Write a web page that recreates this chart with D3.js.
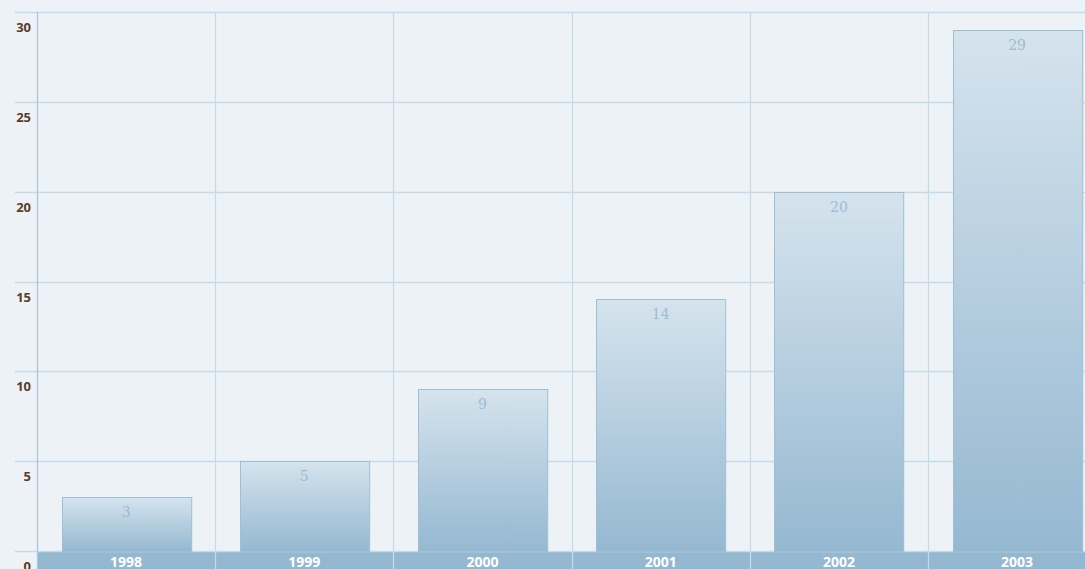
<!DOCTYPE html>
<html>
<head>
<meta charset="utf-8">
<script src="https://cdn.jsdelivr.net/npm/d3@7"></script>
<style>
html,body{margin:0;padding:0;background:#edf2f6;overflow:hidden;}
svg{display:block;}
</style>
</head>
<body>
<svg id="chart" width="1085" height="569"></svg>
<script>
const categories = ["1998","1999","2000","2001","2002","2003"];
const values = [3, 5, 9, 14, 20, 29];
const yTicks = [0, 5, 10, 15, 20, 25, 30];

(function () {
const W = 1085, H = 569;
const svg = d3.select("#chart");
const mLeft = 37, mTop = 12, base = 551;
const stepGuess = 178.2;
const mRight = mLeft + stepGuess * categories.length;

svg.append("rect").attr("width", W).attr("height", H).attr("fill", "#edf2f6");

const defs = svg.append("defs");
const grad = defs.append("linearGradient").attr("id","barGrad").attr("x1",0).attr("y1",0).attr("x2",0).attr("y2",1);
grad.append("stop").attr("offset","0%").attr("stop-color","#d5e3ed");
grad.append("stop").attr("offset","100%").attr("stop-color","#95b8d1");

const x = d3.scaleBand().domain(categories).range([mLeft, mRight]).paddingInner(0.275).paddingOuter(0.1375);
const y = d3.scaleLinear().domain([0, 30]).range([base, mTop]);

// x band at bottom
svg.append("rect").attr("x", mLeft).attr("y", base).attr("width", W - mLeft).attr("height", H - base).attr("fill", "#95b8d1");

// horizontal grid
svg.append("g").selectAll("line").data(yTicks).join("line")
  .attr("x1", 15).attr("x2", W)
  .attr("y1", d => Math.round(y(d)) + 0.5).attr("y2", d => Math.round(y(d)) + 0.5)
  .attr("stroke", "#c6dbea").attr("stroke-width", 1.5);

// vertical grid
const step = x.step();
const vlines = d3.range(1, categories.length + 1).map(i => mLeft + i * step);
svg.append("g").selectAll("line").data(vlines).join("line")
  .attr("x1", d => Math.round(d) + 0.5).attr("x2", d => Math.round(d) + 0.5)
  .attr("y1", mTop).attr("y2", H)
  .attr("stroke", "#c4dcea").attr("stroke-width", 1.2);

// y axis line
svg.append("line").attr("x1", mLeft + 0.5).attr("x2", mLeft + 0.5).attr("y1", mTop).attr("y2", H)
  .attr("stroke", "#a6c4da").attr("stroke-width", 1.2);

// bars
svg.append("g").selectAll("rect").data(values).join("rect")
  .attr("x", (d, i) => Math.round(x(categories[i])) + 0.5)
  .attr("y", d => Math.round(y(d)) + 0.5)
  .attr("width", x.bandwidth())
  .attr("height", d => base - Math.round(y(d)))
  .attr("fill", "url(#barGrad)")
  .attr("stroke", "#9dc0d7").attr("stroke-width", 1);

// value labels
svg.append("g").selectAll("text").data(values).join("text")
  .attr("x", (d, i) => x(categories[i]) + x.bandwidth() / 2)
  .attr("y", d => y(d) + 20)
  .attr("text-anchor", "middle")
  .attr("font-family", "'DejaVu Serif', 'Liberation Serif', serif")
  .attr("font-size", 14)
  .attr("fill", "#9cbdd3")
  .text(d => d);

// x labels
svg.append("g").selectAll("text").data(categories).join("text")
  .attr("x", d => x(d) + x.bandwidth() / 2)
  .attr("y", 567)
  .attr("text-anchor", "middle")
  .attr("font-family", "'Open Sans', sans-serif")
  .attr("font-weight", "bold")
  .attr("font-size", 14)
  .attr("fill", "#ffffff")
  .text(d => d);

// y labels
svg.append("g").selectAll("text").data(yTicks).join("text")
  .attr("x", 31)
  .attr("y", d => y(d) + 20)
  .attr("text-anchor", "end")
  .attr("font-family", "'Open Sans', sans-serif")
  .attr("font-weight", "bold")
  .attr("font-size", 13)
  .attr("fill", "#5b3c25")
  .text(d => d);
})();
</script>
</body>
</html>
